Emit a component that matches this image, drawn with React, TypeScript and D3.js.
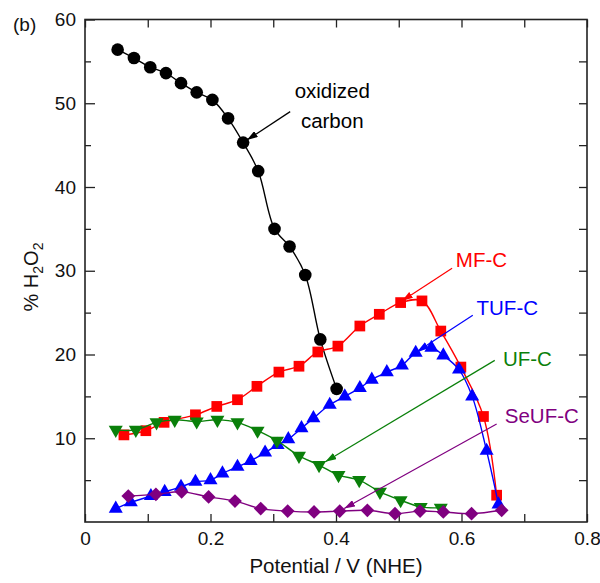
import { useRef, useEffect } from 'react';
import * as d3 from 'd3';

// oxidized carbon (black circles)
const oxV = [0.052, 0.078, 0.104, 0.129, 0.153, 0.178, 0.203, 0.228, 0.252, 0.276, 0.302, 0.326, 0.351, 0.375, 0.401];
const oxP = [56.4, 55.4, 54.3, 53.6, 52.4, 51.3, 50.4, 48.2, 45.3, 41.9, 35.0, 32.9, 29.5, 21.8, 15.9];

// MF-C (red squares)
const mfV = [0.062, 0.097, 0.126, 0.176, 0.210, 0.243, 0.274, 0.309, 0.341, 0.371, 0.403, 0.438, 0.469, 0.503, 0.537, 0.567, 0.599, 0.635, 0.656];
const mfP = [10.4, 10.9, 11.9, 12.8, 13.8, 14.6, 16.2, 17.9, 18.6, 20.3, 21.0, 23.4, 24.8, 26.2, 26.4, 22.8, 18.5, 12.6, 3.2];

// TUF-C (blue triangles)
const tufV = [0.049, 0.073, 0.105, 0.127, 0.153, 0.176, 0.200, 0.219, 0.243, 0.264, 0.287, 0.307, 0.324, 0.345, 0.364, 0.390, 0.414, 0.438, 0.457, 0.481, 0.505, 0.527, 0.552, 0.571, 0.596, 0.617, 0.640, 0.659];
const tufP = [1.6, 2.35, 3.1, 3.6, 4.2, 4.8, 5.0, 5.8, 6.6, 7.3, 8.3, 9.2, 9.9, 11.2, 12.4, 14.0, 15.0, 16.0, 17.0, 17.9, 18.7, 20.2, 20.8, 19.9, 18.2, 15.0, 8.5, 2.1];

// UF-C (green down triangles)
const ufV = [0.049, 0.081, 0.114, 0.143, 0.178, 0.211, 0.243, 0.275, 0.306, 0.341, 0.373, 0.404, 0.437, 0.470, 0.503, 0.535, 0.567];
const ufP = [11.0, 11.0, 11.9, 12.2, 12.0, 12.2, 11.9, 10.9, 9.7, 7.9, 6.8, 5.6, 5.0, 3.6, 2.6, 1.8, 1.7];

// SeUF-C (purple diamonds)
const seV = [0.069, 0.113, 0.154, 0.197, 0.239, 0.280, 0.323, 0.365, 0.406, 0.450, 0.494, 0.534, 0.571, 0.616, 0.664];
const seP = [3.1, 3.3, 3.6, 3.0, 2.5, 1.6, 1.3, 1.2, 1.3, 1.4, 1.0, 1.3, 1.2, 1.0, 1.4];

const xTicks = [0, 0.1, 0.2, 0.3, 0.4, 0.5, 0.6, 0.7, 0.8];
const xLabels = ['0', '', '0.2', '', '0.4', '', '0.6', '', '0.8'];
const yMajor = [10, 20, 30, 40, 50, 60];
const yMinor = [5, 15, 25, 35, 45, 55];
const yRight = [5, 10, 15, 20, 25, 30, 35, 40, 45, 50, 55];

const FONT = "'Liberation Sans', Arial, sans-serif";

const series = [
  { v: oxV, p: oxP, color: '#000000', shape: 'circle' },
  { v: mfV, p: mfP, color: '#ff0000', shape: 'square' },
  { v: tufV, p: tufP, color: '#0000ff', shape: 'up' },
  { v: ufV, p: ufP, color: '#0a800a', shape: 'down' },
  { v: seV, p: seP, color: '#800080', shape: 'diamond' },
];

// annotations: text anchor + arrow tail/head, all in data units
const notes = [
  { lines: ['oxidized', 'carbon'], tx: 0.394, ty: [50.6, 47.1], anchor: 'middle', color: '#000000', from: [0.327, 49.0], to: [0.258, 45.6] },
  { lines: ['MF-C'], tx: 0.591, ty: [30.4], anchor: 'start', color: '#ff0000', from: [0.585, 30.3], to: [0.505, 26.4] },
  { lines: ['TUF-C'], tx: 0.624, ty: [24.7], anchor: 'start', color: '#0000ff', from: [0.618, 24.7], to: [0.530, 20.4] },
  { lines: ['UF-C'], tx: 0.666, ty: [18.6], anchor: 'start', color: '#0a800a', from: [0.653, 19.3], to: [0.383, 7.2] },
  { lines: ['SeUF-C'], tx: 0.669, ty: [11.8], anchor: 'start', color: '#800080', from: [0.656, 11.7], to: [0.413, 1.6] },
];

function App() {
  const ref = useRef<SVGSVGElement>(null);

  useEffect(() => {
    const svg = d3.select(ref.current);
    svg.selectAll('*').remove();

    const x = d3.scaleLinear().domain([0, 0.8]).range([85, 587]);
    const y = d3.scaleLinear().domain([0, 60]).range([522, 19.5]);

    const defs = svg.append('defs');
    notes.forEach((n, i) => {
      defs.append('marker')
        .attr('id', `arr${i}`)
        .attr('viewBox', '0 0 10 10')
        .attr('refX', 10).attr('refY', 5)
        .attr('markerWidth', 11).attr('markerHeight', 7)
        .attr('markerUnits', 'userSpaceOnUse')
        .attr('preserveAspectRatio', 'none')
        .attr('orient', 'auto')
        .append('path').attr('d', 'M0,0L10,5L0,10z').attr('fill', n.color);
    });

    // axes, ticks point inward
    const axisStyle = (g: any) => {
      g.select('.domain').remove();
      g.selectAll('line').attr('stroke', '#222').attr('stroke-width', 1.3);
      g.selectAll('text').attr('fill', '#111').style('font-family', FONT).style('font-size', '19px');
    };

    svg.append('g').attr('transform', 'translate(0,522)')
      .call(d3.axisBottom(x).tickValues(xTicks).tickSize(-8).tickPadding(10)
        .tickFormat((d: any, i: number) => xLabels[i]))
      .call(axisStyle);
    svg.append('g').attr('transform', 'translate(0,19.5)')
      .call(d3.axisTop(x).tickValues(xTicks).tickSize(-8).tickFormat(() => ''))
      .call(axisStyle);
    svg.append('g').attr('transform', 'translate(85,0)')
      .call(d3.axisLeft(y).tickValues(yMajor).tickSize(-10).tickPadding(9))
      .call(axisStyle);
    svg.append('g').attr('transform', 'translate(85,0)')
      .call(d3.axisLeft(y).tickValues(yMinor).tickSize(-6).tickFormat(() => ''))
      .call(axisStyle);
    svg.append('g').attr('transform', 'translate(587,0)')
      .call(d3.axisRight(y).tickValues(yRight).tickSize(-8).tickFormat(() => ''))
      .call(axisStyle);

    svg.append('rect')
      .attr('x', 85).attr('y', 19.5).attr('width', 502).attr('height', 502.5)
      .attr('fill', 'none').attr('stroke', '#222').attr('stroke-width', 1.6);

    const line = d3.line<[number, number]>()
      .x(d => x(d[0])).y(d => y(d[1]))
      .curve(d3.curveCatmullRom.alpha(0.5));

    const shapes: Record<string, any> = {
      circle: d3.symbol(d3.symbolCircle, 125),
      square: d3.symbol(d3.symbolSquare, 115),
      up: d3.symbol(d3.symbolTriangle, 85),
      down: d3.symbol(d3.symbolTriangle, 85),
      diamond: d3.symbol(d3.symbolSquare, 95),
    };

    series.forEach(s => {
      const pts = s.v.map((v, i) => [v, s.p[i]] as [number, number]);
      svg.append('path')
        .attr('d', line(pts))
        .attr('fill', 'none')
        .attr('stroke', s.color)
        .attr('stroke-width', 1.4);
      svg.append('g').selectAll('path')
        .data(pts)
        .join('path')
        .attr('d', shapes[s.shape]())
        .attr('transform', d => {
          const rot = s.shape === 'down' ? ' rotate(180)' : s.shape === 'diamond' ? ' rotate(45)' : '';
          return `translate(${x(d[0])},${y(d[1])})${rot}`;
        })
        .attr('fill', s.color);
    });

    notes.forEach((n, i) => {
      svg.append('line')
        .attr('x1', x(n.from[0])).attr('y1', y(n.from[1]))
        .attr('x2', x(n.to[0])).attr('y2', y(n.to[1]))
        .attr('stroke', n.color).attr('stroke-width', 1.2)
        .attr('marker-end', `url(#arr${i})`);
      n.lines.forEach((t, j) => {
        svg.append('text')
          .attr('x', x(n.tx)).attr('y', y(n.ty[j]))
          .attr('text-anchor', n.anchor)
          .attr('fill', n.color)
          .style('font-family', FONT).style('font-size', '20.5px')
          .text(t);
      });
    });

    svg.append('text')
      .attr('x', 336).attr('y', 573)
      .attr('text-anchor', 'middle')
      .attr('fill', '#111')
      .style('font-family', FONT).style('font-size', '20.5px')
      .text('Potential / V (NHE)');

    const yt = svg.append('text')
      .attr('transform', 'translate(38,277) rotate(-90)')
      .attr('text-anchor', 'middle')
      .attr('fill', '#111')
      .style('font-family', FONT).style('font-size', '20px');
    yt.append('tspan').text('% H');
    yt.append('tspan').attr('dy', 5).style('font-size', '14px').text('2');
    yt.append('tspan').attr('dy', -5).text('O');
    yt.append('tspan').attr('dy', 5).style('font-size', '14px').text('2');

    svg.append('text')
      .attr('x', 13).attr('y', 31)
      .attr('fill', '#111')
      .style('font-family', FONT).style('font-size', '19px')
      .text('(b)');
  }, []);

  return (
    <svg ref={ref} width={600} height={583}
      style={{ position: 'absolute', left: 0, top: 0, background: '#fff' }} />
  );
}

export default App;
